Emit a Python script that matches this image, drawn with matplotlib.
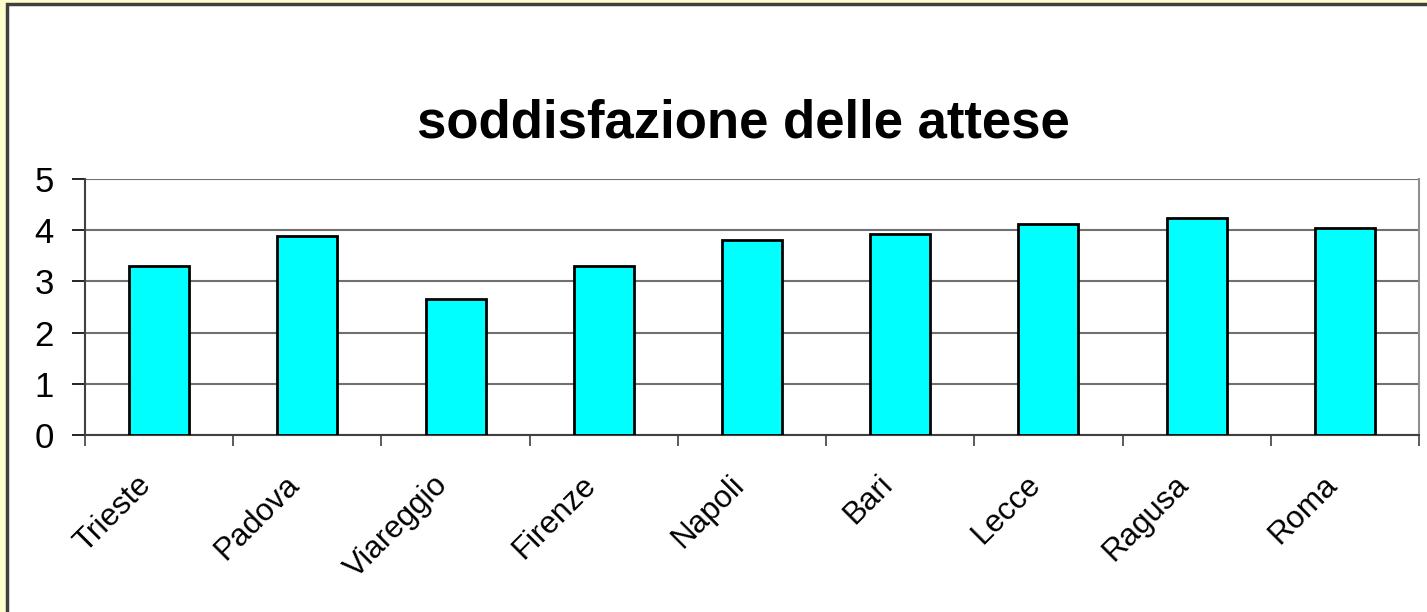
import matplotlib.pyplot as plt
import numpy as np
from matplotlib.patches import Rectangle
from matplotlib.transforms import ScaledTranslation

cities = ['Trieste', 'Padova', 'Viareggio', 'Firenze', 'Napoli',
          'Bari', 'Lecce', 'Ragusa', 'Roma']
values = [3.30, 3.88, 2.65, 3.30, 3.80, 3.92, 4.12, 4.23, 4.04]

plt.rcParams['font.family'] = ['Liberation Sans', 'DejaVu Sans']

fig = plt.figure(figsize=(14.27, 6.12), dpi=100, facecolor='#FFFFCC')
# white chart panel with dark border
fig.patches.append(Rectangle((7/1427, -0.05), 1.1, 1 - 4/612 + 0.05,
                             transform=fig.transFigure, facecolor='white',
                             edgecolor='#404040', linewidth=2.5, zorder=-5))

ax = fig.add_axes([85/1427, 1 - 435/612, 1334/1427, 256/612])
ax.set_zorder(2)
ax.set_facecolor('none')
x = np.arange(len(cities))
ax.bar(x, values, width=0.405, color='#00FFFF', edgecolor='black',
       linewidth=2, zorder=3)

ax.set_xlim(-0.5, len(cities) - 0.5)
ax.set_ylim(0, 5)
ax.set_yticks(range(6))
ax.yaxis.grid(True, color='#707070', linewidth=1.5, zorder=1)
ax.tick_params(axis='y', labelsize=25, length=9.4, width=1.2, color='black', pad=13)

ax.set_xticks(x)
ax.set_xticklabels(cities, rotation=45, ha='right', rotation_mode='anchor', fontsize=22.5)
ax.tick_params(axis='x', which='major', length=0, pad=25)
ax.set_xticks(np.arange(-0.5, len(cities)), minor=True)
ax.tick_params(axis='x', which='minor', length=8, width=1.2, color='#404040')
shift = ScaledTranslation(-0.23, 0, fig.dpi_scale_trans)
for lab in ax.get_xticklabels():
    lab.set_transform(lab.get_transform() + shift)

ax.spines['top'].set_visible(False)
ax.spines['right'].set_color('#909090')
ax.spines['right'].set_linewidth(1.5)
ax.spines['left'].set_color('#404040')
ax.spines['left'].set_linewidth(1.5)
ax.spines['bottom'].set_color('#404040')
ax.spines['bottom'].set_linewidth(1.5)

fig.text(743/1427, 1 - 137/612, 'soddisfazione delle attese', ha='center',
         va='baseline', fontsize=38, fontweight='bold')

fig.savefig('out.png', dpi=100, facecolor=fig.get_facecolor())
